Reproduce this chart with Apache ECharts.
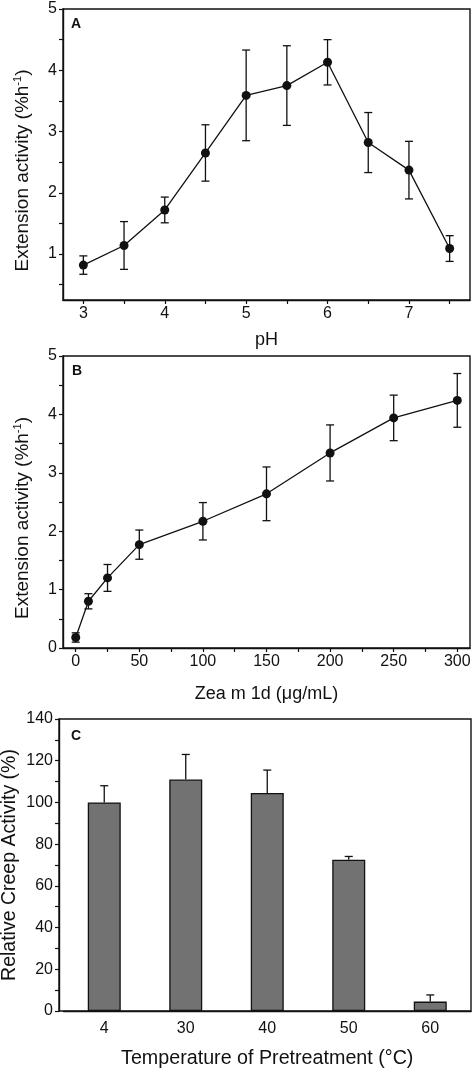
<!DOCTYPE html>
<html>
<head>
<meta charset="utf-8">
<script src="https://cdn.jsdelivr.net/npm/echarts@6/dist/echarts.min.js"></script>
<style>
html,body{margin:0;padding:0;background:#fff;}
#c{width:475px;height:1071px;}
</style>
</head>
<body>
<div id="c"></div>
<script>
// ---- Panel A: pH ----
const phValues = [3, 3.5, 4, 4.5, 5, 5.5, 6, 6.5, 7, 7.5];
const phActivity = [0.82, 1.14, 1.72, 2.65, 3.59, 3.75, 4.13, 2.82, 2.37, 1.09];
const phError = [0.15, 0.39, 0.21, 0.46, 0.74, 0.65, 0.37, 0.49, 0.47, 0.21];
const phTicks = [3, 3.5, 4, 4.5, 5, 5.5, 6, 6.5, 7, 7.5];
const phLabels = [3, 4, 5, 6, 7];
const actTicksA = [0.5, 1, 1.5, 2, 2.5, 3, 3.5, 4, 4.5, 5];
const actLabels = [1, 2, 3, 4, 5];

// ---- Panel B: Zea m 1d concentration ----
const zeaConc = [0, 10, 25, 50, 100, 150, 200, 250, 300];
const zeaActivity = [0.18, 0.80, 1.20, 1.77, 2.17, 2.64, 3.34, 3.94, 4.24];
const zeaError = [0.08, 0.13, 0.23, 0.25, 0.32, 0.46, 0.48, 0.39, 0.46];
const zeaTicks = [0, 25, 50, 75, 100, 125, 150, 175, 200, 225, 250, 275, 300];
const zeaLabels = [0, 50, 100, 150, 200, 250, 300];
const actTicksB = [0, 0.5, 1, 1.5, 2, 2.5, 3, 3.5, 4, 4.5, 5];
const actLabelsB = [0, 1, 2, 3, 4, 5];

// ---- Panel C: temperature pretreatment ----
const tempCats = ['4', '30', '40', '50', '60'];
const creepActivity = [100, 111, 104.5, 72.5, 4.5];
const creepError = [8, 12, 11, 1.6, 3.2];

const font = 'Liberation Sans, Arial, Helvetica, sans-serif';
const black = '#111';
const tickFont = 16;

function errBarRender(capHalf, twoSided) {
  return function (params, api) {
    const x = api.value(0), lo = api.value(1), hi = api.value(2);
    const pHi = api.coord([x, hi]);
    const pLo = api.coord([x, lo]);
    const st = { stroke: black, lineWidth: 1.3 };
    const children = [
      { type: 'line', shape: { x1: pHi[0], y1: pHi[1], x2: pLo[0], y2: pLo[1] }, style: st },
      { type: 'line', shape: { x1: pHi[0] - capHalf, y1: pHi[1], x2: pHi[0] + capHalf, y2: pHi[1] }, style: st }
    ];
    if (twoSided) {
      children.push({ type: 'line', shape: { x1: pLo[0] - capHalf, y1: pLo[1], x2: pLo[0] + capHalf, y2: pLo[1] }, style: st });
    }
    return { type: 'group', children: children };
  };
}

function axisCommon() {
  return {
    nameMoveOverlap: false,
    axisLine: { show: true, onZero: false, lineStyle: { color: black, width: 1.4 } },
    axisTick: { show: true, inside: false, length: 4, lineStyle: { color: black, width: 1.2 } },
    axisLabel: { color: black, fontSize: tickFont, fontFamily: font, margin: 6 },
    splitLine: { show: false },
    nameTextStyle: { color: black, fontSize: 18, fontFamily: font }
  };
}

const titleStyle = { fontSize: 14, fontWeight: 'bold', color: black, fontFamily: font };
const extName = '{t|Extension activity (%h}{s|-1}{t|)}';
const extNameStyle = {
  color: black, fontFamily: font, padding: [0, 32, 0, 0],
  rich: {
    t: { fontSize: 19, lineHeight: 22, color: black, fontFamily: font },
    s: { fontSize: 11, lineHeight: 22, verticalAlign: 'top', color: black, fontFamily: font }
  }
};
const gridBase = { show: true, borderColor: black, borderWidth: 1.4, backgroundColor: 'transparent', containLabel: false, outerBoundsMode: 'none' };
const hiddenAxis = { show: false, axisLine: { show: false }, axisTick: { show: false }, axisLabel: { show: false }, splitLine: { show: false } };

const option = {
  backgroundColor: '#fff',
  animation: false,
  title: [
    { text: 'A', left: 71, top: 17, textStyle: titleStyle, padding: 0 },
    { text: 'B', left: 72, top: 364, textStyle: titleStyle, padding: 0 },
    { text: 'C', left: 71, top: 729, textStyle: titleStyle, padding: 0 }
  ],
  grid: [
    Object.assign({ left: 63, right: 5, top: 9, height: 291 }, gridBase),
    Object.assign({ left: 63, right: 5, top: 356, height: 292 }, gridBase),
    // plotting area of panel C (category bands)
    Object.assign({}, gridBase, { left: 63.5, right: 4, top: 719, height: 292, show: false }),
    // frame of panel C
    Object.assign({ left: 59, right: 4, top: 719, height: 292 }, gridBase)
  ],
  xAxis: [
    Object.assign(axisCommon(), {
      gridIndex: 0, type: 'value', min: 2.75, max: 7.75,
      name: 'pH', nameLocation: 'middle', nameGap: 31,
      axisTick: { show: true, inside: false, length: 4, customValues: phTicks, lineStyle: { color: black, width: 1.2 } },
      axisLabel: { color: black, fontSize: tickFont, fontFamily: font, margin: 6, customValues: phLabels }
    }),
    Object.assign(axisCommon(), {
      gridIndex: 1, type: 'value', min: -10, max: 310,
      name: 'Zea m 1d (\u03bcg/mL)', nameLocation: 'middle', nameGap: 37,
      axisTick: { show: true, inside: false, length: 4, customValues: zeaTicks, lineStyle: { color: black, width: 1.2 } },
      axisLabel: { color: black, fontSize: tickFont, fontFamily: font, margin: 6, customValues: zeaLabels }
    }),
    Object.assign(axisCommon(), {
      gridIndex: 2, type: 'category', data: tempCats, boundaryGap: true,
      name: 'Temperature of Pretreatment (\u00b0C)', nameLocation: 'middle', nameGap: 38,
      nameTextStyle: { color: black, fontSize: 19.7, fontFamily: font },
      axisTick: { show: false },
      axisLabel: { color: black, fontSize: tickFont, fontFamily: font, margin: 10 }
    }),
    Object.assign({ gridIndex: 3, type: 'value', min: 0, max: 1 }, hiddenAxis)
  ],
  yAxis: [
    Object.assign(axisCommon(), {
      gridIndex: 0, type: 'value', min: 0.25, max: 5,
      name: extName, nameLocation: 'middle', nameGap: 29,
      nameTextStyle: extNameStyle,
      axisTick: { show: true, inside: false, length: 4, customValues: actTicksA, lineStyle: { color: black, width: 1.2 } },
      axisLabel: { color: black, fontSize: tickFont, fontFamily: font, margin: 6, customValues: actLabels }
    }),
    Object.assign(axisCommon(), {
      gridIndex: 1, type: 'value', min: 0, max: 5,
      name: extName, nameLocation: 'middle', nameGap: 29,
      nameTextStyle: extNameStyle,
      axisTick: { show: true, inside: false, length: 4, customValues: actTicksB, lineStyle: { color: black, width: 1.2 } },
      axisLabel: { color: black, fontSize: tickFont, fontFamily: font, margin: 6, customValues: actLabelsB }
    }),
    Object.assign(axisCommon(), {
      gridIndex: 2, type: 'value', min: 0, max: 140, interval: 20, offset: 4.5,
      name: 'Relative Creep Activity (%)', nameLocation: 'middle', nameGap: 39,
      nameTextStyle: { color: black, fontSize: 19.5, fontFamily: font },
      minorTick: { show: true, splitNumber: 2, length: 4, lineStyle: { color: black, width: 1.2 } }
    }),
    Object.assign({ gridIndex: 3, type: 'value', min: 0, max: 1 }, hiddenAxis)
  ],
  series: [
    {
      type: 'custom', xAxisIndex: 0, yAxisIndex: 0, z: 2,
      renderItem: errBarRender(4, true),
      data: phValues.map((x, i) => [x, phActivity[i] - phError[i], phActivity[i] + phError[i]])
    },
    {
      type: 'line', xAxisIndex: 0, yAxisIndex: 0, z: 3,
      symbol: 'circle', symbolSize: 9,
      lineStyle: { color: black, width: 1.3 },
      itemStyle: { color: black },
      data: phValues.map((x, i) => [x, phActivity[i]])
    },
    {
      type: 'custom', xAxisIndex: 1, yAxisIndex: 1, z: 2,
      renderItem: errBarRender(4, true),
      data: zeaConc.map((x, i) => [x, zeaActivity[i] - zeaError[i], zeaActivity[i] + zeaError[i]])
    },
    {
      type: 'line', xAxisIndex: 1, yAxisIndex: 1, z: 3,
      symbol: 'circle', symbolSize: 9,
      lineStyle: { color: black, width: 1.3 },
      itemStyle: { color: black },
      data: zeaConc.map((x, i) => [x, zeaActivity[i]])
    },
    {
      type: 'bar', xAxisIndex: 2, yAxisIndex: 2, z: 2,
      barWidth: 33,
      itemStyle: { color: '#727272', borderColor: black, borderWidth: 1.3 },
      data: creepActivity
    },
    {
      type: 'custom', xAxisIndex: 2, yAxisIndex: 2, z: 1,
      renderItem: errBarRender(4, false),
      data: creepActivity.map((v, i) => [i, v, v + creepError[i]])
    }
  ]
};

const chart = echarts.init(document.getElementById('c'), null, { renderer: 'canvas' });
chart.setOption(option);
</script>
</body>
</html>
